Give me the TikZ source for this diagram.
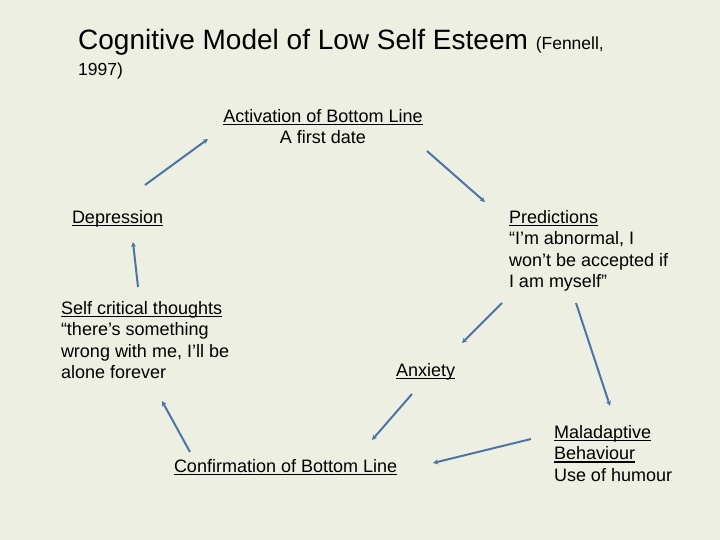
\documentclass[tikz,border=0pt]{standalone}
\usepackage{fontspec}
\setmainfont{Liberation Sans}
\usetikzlibrary{arrows.meta}
\definecolor{bgc}{RGB}{236,239,225}
\definecolor{arrc}{RGB}{78,116,166}
\newcommand\myul[1]{\setbox0\hbox{#1}\rlap{\rule[-3.2pt]{\wd0}{1.4pt}}\box0}
\begin{document}
\begin{tikzpicture}[x=1pt,y=-1pt,
  body/.style={inner sep=0pt,outer sep=0pt,font=\fontsize{18}{21.6}\selectfont,align=left,anchor=north west},
  conn/.style={draw=arrc,line width=2pt,-{Stealth[length=5pt,width=5pt]}}]
\fill[bgc] (0,0) rectangle (720,540);
\useasboundingbox (0,0) rectangle (720,540);
% title
\node[inner sep=0pt,anchor=base west,font=\fontsize{28}{33}\selectfont] (title) at (78,49.5)
  {Cognitive Model of Low Self Esteem {\fontsize{17.5}{21}\selectfont(Fennell,}};
\node[inner sep=0pt,anchor=base west,font=\fontsize{17.5}{21}\selectfont] (year) at (78,75.7) {1997)};
% blocks
\node[body,align=center,anchor=north] (act) at (323,109) {\myul{Activation of Bottom Line}\\A first date};
\node[body] (dep) at (72,210) {\myul{Depression}};
\node[body] (pred) at (509,210) {\myul{Predictions}\\“I’m abnormal, I\\won’t be accepted if\\I am myself”};
\node[body] (self) at (61,301) {\myul{Self critical thoughts}\\“there’s something\\wrong with me, I’ll be\\alone forever};
\node[body] (anx) at (396,363) {\myul{Anxiety}};
\node[body] (conf) at (174,459) {\myul{Confirmation of Bottom Line}};
\node[body] (mal) at (554,425) {\myul{Maladaptive}\\\myul{Behaviour}\\Use of humour};
% connector ends
\coordinate (depA) at (145,185); \coordinate (actA) at (208,139);
\coordinate (actB) at (427,151); \coordinate (predB) at (485,202);
\coordinate (selfC) at (138,287); \coordinate (depC) at (133,242);
\coordinate (confD) at (190,452); \coordinate (selfD) at (162,401);
\coordinate (predE) at (502,303); \coordinate (anxE) at (462,343);
\coordinate (predF) at (576,303); \coordinate (malF) at (610,406);
\coordinate (anxG) at (412,394); \coordinate (confG) at (372,440);
\coordinate (malH) at (531,439); \coordinate (confH) at (433,463);
\draw[conn] (depA) -- (actA);
\draw[conn] (actB) -- (predB);
\draw[conn] (selfC) -- (depC);
\draw[conn] (confD) -- (selfD);
\draw[conn] (predE) -- (anxE);
\draw[conn] (predF) -- (malF);
\draw[conn] (anxG) -- (confG);
\draw[conn] (malH) -- (confH);
\end{tikzpicture}
\end{document}
